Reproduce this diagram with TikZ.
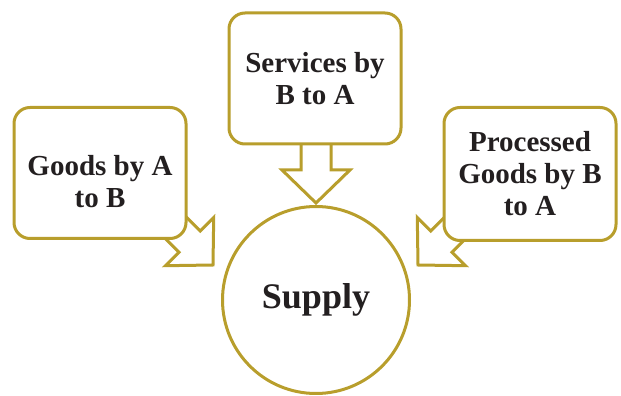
\documentclass[tikz,border=0pt]{standalone}
\usepackage{fontspec}
\setmainfont{Liberation Serif}
\usepackage{tikz}
\usetikzlibrary{positioning}

\definecolor{gold}{RGB}{184,158,44}
\definecolor{ink}{RGB}{35,31,32}

\tikzset{
  box/.style={draw=gold, line width=3pt, fill=white, rounded corners=16pt,
    minimum width=172pt, minimum height=131pt, align=center, text=ink,
    font=\fontsize{29}{32}\selectfont\bfseries},
  bigdot/.style={circle, draw=gold, line width=3pt, fill=white, inner sep=0pt,
    minimum size=187pt, text=ink, font=\fontsize{36}{40}\selectfont\bfseries},
  % hollow block arrow, tip at the origin, pointing along +x
  blockarr/.pic={
    \draw[gold, line width=3pt, fill=white, line join=miter]
      (0,0) -- (-33,34) -- (-33,15) -- (-85,15) -- (-85,-15)
      -- (-33,-15) -- (-33,-34) -- cycle;
  }
}

\begin{document}
\begin{tikzpicture}[x=1pt, y=1pt]
      \useasboundingbox (0,0) rectangle (621,396);

      \coordinate (tipL) at (213,131);
      \coordinate (tipM) at (316,193);
      \coordinate (tipR) at (418,131);

      \pic[rotate=-45] at (tipL) {blockarr};
      \pic[rotate=-90] at (tipM) {blockarr};
      \pic[rotate=-135] at (tipR) {blockarr};

      % text in the left box sits a little low
      \node[box] (goods) at (100,223) {\mbox{}\\[6pt]Goods by A\\to B};
      \node[box] (services) at (315,317.5) {Services by\\B to A};
      \node[box, minimum height=133pt] (processed) at (530,222) {Processed\\Goods by B\\to A};

      \node[bigdot] (supply) at (316,96) {Supply};
\end{tikzpicture}
\end{document}
